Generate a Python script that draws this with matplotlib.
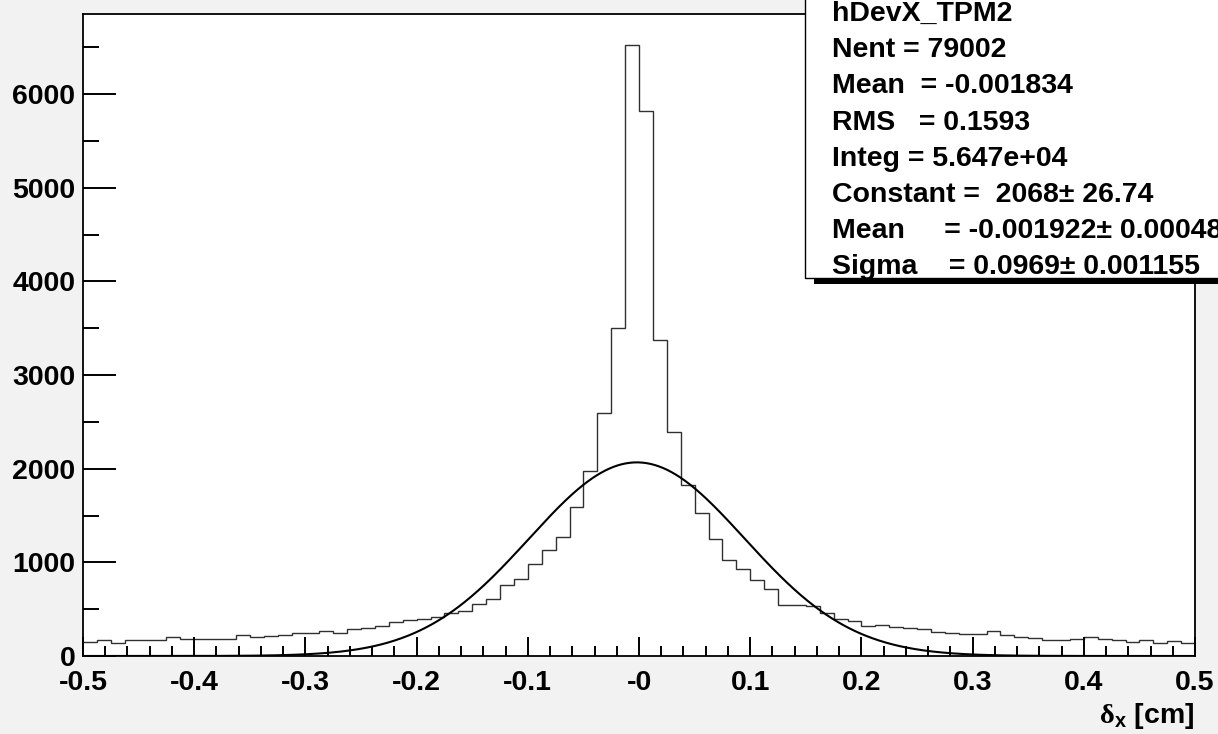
import matplotlib
matplotlib.use('Agg')
import matplotlib.pyplot as plt
import numpy as np
from matplotlib.patches import Rectangle
from matplotlib.ticker import MultipleLocator

plt.rcParams['font.family'] = ['Liberation Sans', 'DejaVu Sans']
plt.rcParams['font.weight'] = 'bold'
plt.rcParams['mathtext.fontset'] = 'custom'
plt.rcParams['mathtext.rm'] = 'Liberation Serif'
plt.rcParams['mathtext.bf'] = 'Liberation Sans:bold'

# histogram hDevX_TPM2, 80 bins from -0.5 to 0.5
x_min, x_max = -0.5, 0.5
counts = [149, 167, 139, 167, 174, 174, 203, 185, 185, 185,
          185, 221, 206, 213, 228, 242, 242, 267, 250, 285,
          296, 320, 362, 385, 400, 415, 460, 485, 558, 608,
          754, 825, 985, 1128, 1273, 1587, 1971, 2590, 3500, 6530,
          5820, 3380, 2390, 1825, 1530, 1249, 1022, 932, 809, 712,
          550, 540, 530, 460, 392, 374, 320, 328, 310, 296,
          285, 258, 245, 238, 238, 267, 227, 203, 195, 171,
          171, 185, 199, 185, 171, 146, 167, 139, 157, 135]

# gaussian fit parameters
fit_const = 2068.0
fit_mean = -0.001922
fit_sigma = 0.0969

stats_lines = ['hDevX_TPM2',
               'Nent = 79002',
               'Mean  = -0.001834',
               'RMS   = 0.1593',
               'Integ = 5.647e+04',
               'Constant =  2068\u00b1 26.74',
               'Mean     = -0.001922\u00b1 0.000485',
               'Sigma    = 0.0969\u00b1 0.001155']

x_ticks = [-0.5, -0.4, -0.3, -0.2, -0.1, 0.0, 0.1, 0.2, 0.3, 0.4, 0.5]
x_tick_labels = ['-0.5', '-0.4', '-0.3', '-0.2', '-0.1', '-0',
                 '0.1', '0.2', '0.3', '0.4', '0.5']
y_ticks = [0, 1000, 2000, 3000, 4000, 5000, 6000]

W, H = 1218, 734
fs = 20.5
fig = plt.figure(figsize=(W / 100, H / 100), dpi=100, facecolor='#f2f2f2')
ax = fig.add_axes([83 / W, 1 - 656 / H, (1195 - 83) / W, (656 - 14) / H])
ax.set_facecolor('white')

edges = np.linspace(x_min, x_max, len(counts) + 1)
ax.stairs(counts, edges, baseline=None, color='#303030', lw=1.0)

xs = np.linspace(x_min, x_max, 800)
ax.plot(xs, fit_const * np.exp(-0.5 * ((xs - fit_mean) / fit_sigma) ** 2),
        color='black', lw=1.5)

ax.set_xlim(x_min, x_max)
ax.set_ylim(0, max(counts) * 1.05)

ax.set_xticks(x_ticks)
ax.set_xticklabels(x_tick_labels)
ax.set_yticks(y_ticks)
ax.xaxis.set_minor_locator(MultipleLocator(0.02))
ax.yaxis.set_minor_locator(MultipleLocator(500))
ax.tick_params(axis='x', which='major', direction='in', length=13.7, width=1.4,
               labelsize=fs, pad=10)
ax.tick_params(axis='x', which='minor', direction='in', length=7.2, width=1.4)
ax.tick_params(axis='y', which='major', direction='in', length=23.8, width=1.4,
               labelsize=fs, pad=5.5)
ax.tick_params(axis='y', which='minor', direction='in', length=11.7, width=1.4)
for s in ax.spines.values():
    s.set_linewidth(1.3)

fig.text(1194 / W, 1 - 723 / H, r'$\mathrm{\delta}_{\mathbf{x}}$ [cm]',
         ha='right', va='baseline', fontsize=fs)

# stats box with shadow
shadow = Rectangle((814 / W, 1 - 284 / H), 500 / W, 8 / H,
                   transform=fig.transFigure, facecolor='black', edgecolor='none')
box = Rectangle((805 / W, 1 - 278 / H), 500 / W, 300 / H,
                transform=fig.transFigure, facecolor='white', edgecolor='black', lw=1.0)
fig.patches.extend([shadow, box])
for i, line in enumerate(stats_lines):
    fig.text(832 / W, 1 - (21 + 36.2 * i) / H, line, ha='left', va='baseline',
             fontsize=fs)

fig.savefig('out.png', dpi=100, facecolor=fig.get_facecolor())
